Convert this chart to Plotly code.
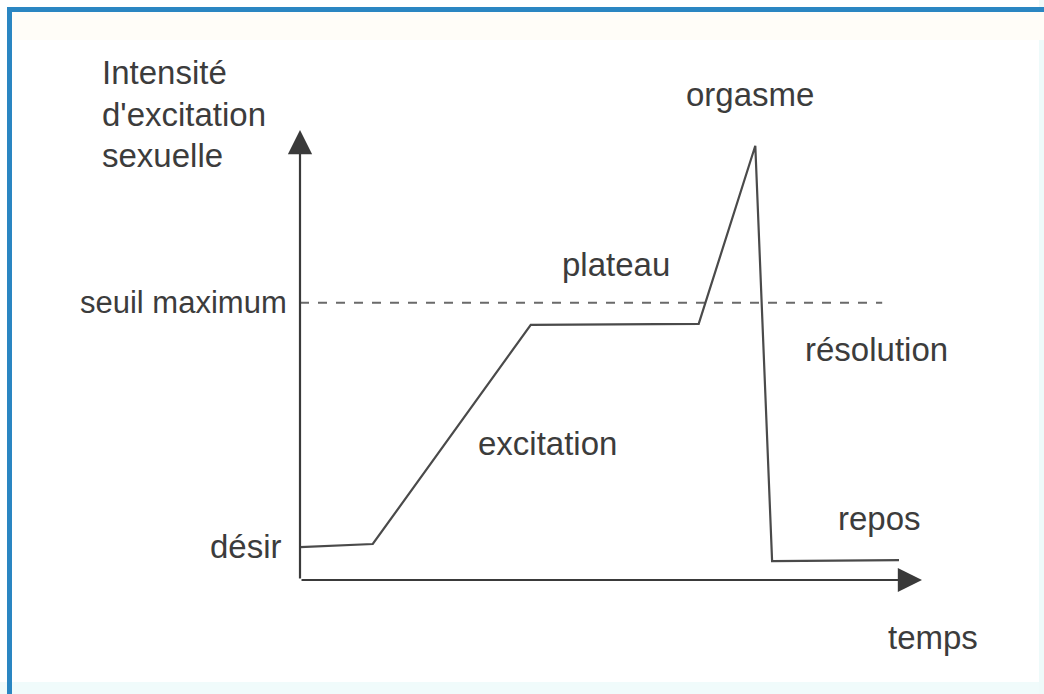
import plotly.graph_objects as go

# --- data (time units, intensity units) ---
phase_time = [0.0, 1.17, 3.71, 6.41, 7.32, 7.59, 9.63]
phase_intensity = [0.73, 0.80, 5.67, 5.69, 9.65, 0.42, 0.44]
threshold_level = 6.16
threshold_end = 9.36
axis_x_max = 10.0
axis_y_max = 10.0

y_axis_title = ["Intensité", "d'excitation", "sexuelle"]
phase_labels = ["désir", "excitation", "plateau", "orgasme", "résolution", "repos"]
threshold_label = "seuil maximum"
x_axis_title = "temps"

W, H = 1044, 694
# pixel mapping of the axes system
PX0, PY0 = 300, 580
SX, SY = 62.2, 45.0
x_range = [(0 - PX0) / SX, (W - PX0) / SX]
y_range = [(PY0 - H) / SY, (PY0 - 0) / SY]

TXT = "#3c3c3c"
LINE = "#4a4a4a"
FONT = "Liberation Sans, Arial, sans-serif"
FS = 33

fig = go.Figure()

# threshold dashed line
fig.add_trace(go.Scatter(
    x=[0, threshold_end], y=[threshold_level, threshold_level], mode="lines",
    line=dict(color="#6a6a6a", width=2, dash="dash"), hoverinfo="skip", showlegend=False))

# response curve
fig.add_trace(go.Scatter(
    x=phase_time, y=phase_intensity, mode="lines",
    line=dict(color=LINE, width=2.2), hoverinfo="skip", showlegend=False))

annotations = []
# axes with arrows
annotations.append(dict(x=0, y=axis_y_max, ax=0, ay=0, xref="x", yref="y", axref="x", ayref="y",
                        showarrow=True, arrowhead=2, arrowsize=2.2, arrowwidth=2.2,
                        arrowcolor="#3a3a3a", text=""))
annotations.append(dict(x=axis_x_max, y=0, ax=0, ay=0, xref="x", yref="y", axref="x", ayref="y",
                        showarrow=True, arrowhead=2, arrowsize=2.2, arrowwidth=2.2,
                        arrowcolor="#3a3a3a", text=""))


def px(xp):
    return (xp - PX0) / SX


def py(yp):
    return (PY0 - yp) / SY


def label(text, xp, yp, xanchor="center", size=FS):
    annotations.append(dict(x=px(xp), y=py(yp), xref="x", yref="y", text=text,
                            showarrow=False, xanchor=xanchor, yanchor="middle",
                            font=dict(family=FONT, size=size, color=TXT)))


for line_text, yc in zip(y_axis_title, [72, 114, 155]):
    label(line_text, 100, yc, "left")

label(threshold_label, 289, 302, "right", size=31)
label(phase_labels[0], 284, 546, "right")
label(phase_labels[1], 547, 443)
label(phase_labels[2], 616, 264)
label(phase_labels[3], 750, 94)
label(phase_labels[4], 876, 349)
label(phase_labels[5], 879, 518)
label(x_axis_title, 933, 637)

shapes = [
    # frame strips
    dict(type="rect", xref="paper", yref="paper", x0=0, x1=1, y0=0, y1=12 / H,
         fillcolor="#f0fbfb", line=dict(width=0), layer="below"),
    dict(type="rect", xref="paper", yref="paper", x0=1 - 5 / W, x1=1, y0=0, y1=1,
         fillcolor="#eefafa", line=dict(width=0), layer="below"),
    dict(type="rect", xref="paper", yref="paper", x0=12 / W, x1=1, y0=1 - 40 / H, y1=1 - 12 / H,
         fillcolor="#fffdf8", line=dict(width=0), layer="below"),
    # blue border
    dict(type="rect", xref="paper", yref="paper", x0=7 / W, x1=1, y0=1 - 12 / H, y1=1 - 7 / H,
         fillcolor="#2a86c2", line=dict(width=0)),
    dict(type="rect", xref="paper", yref="paper", x0=7 / W, x1=12 / W, y0=0, y1=1 - 7 / H,
         fillcolor="#2a86c2", line=dict(width=0)),
]

fig.update_layout(
    width=W, height=H, margin=dict(l=0, r=0, t=0, b=0),
    paper_bgcolor="white", plot_bgcolor="white",
    xaxis=dict(range=x_range, visible=False, fixedrange=True),
    yaxis=dict(range=y_range, visible=False, fixedrange=True),
    annotations=annotations, shapes=shapes, showlegend=False,
)

fig.write_html(
    "out.html",
    config={"displayModeBar": False},
    post_script="document.body.style.margin='0';document.body.style.overflow='hidden';",
)
